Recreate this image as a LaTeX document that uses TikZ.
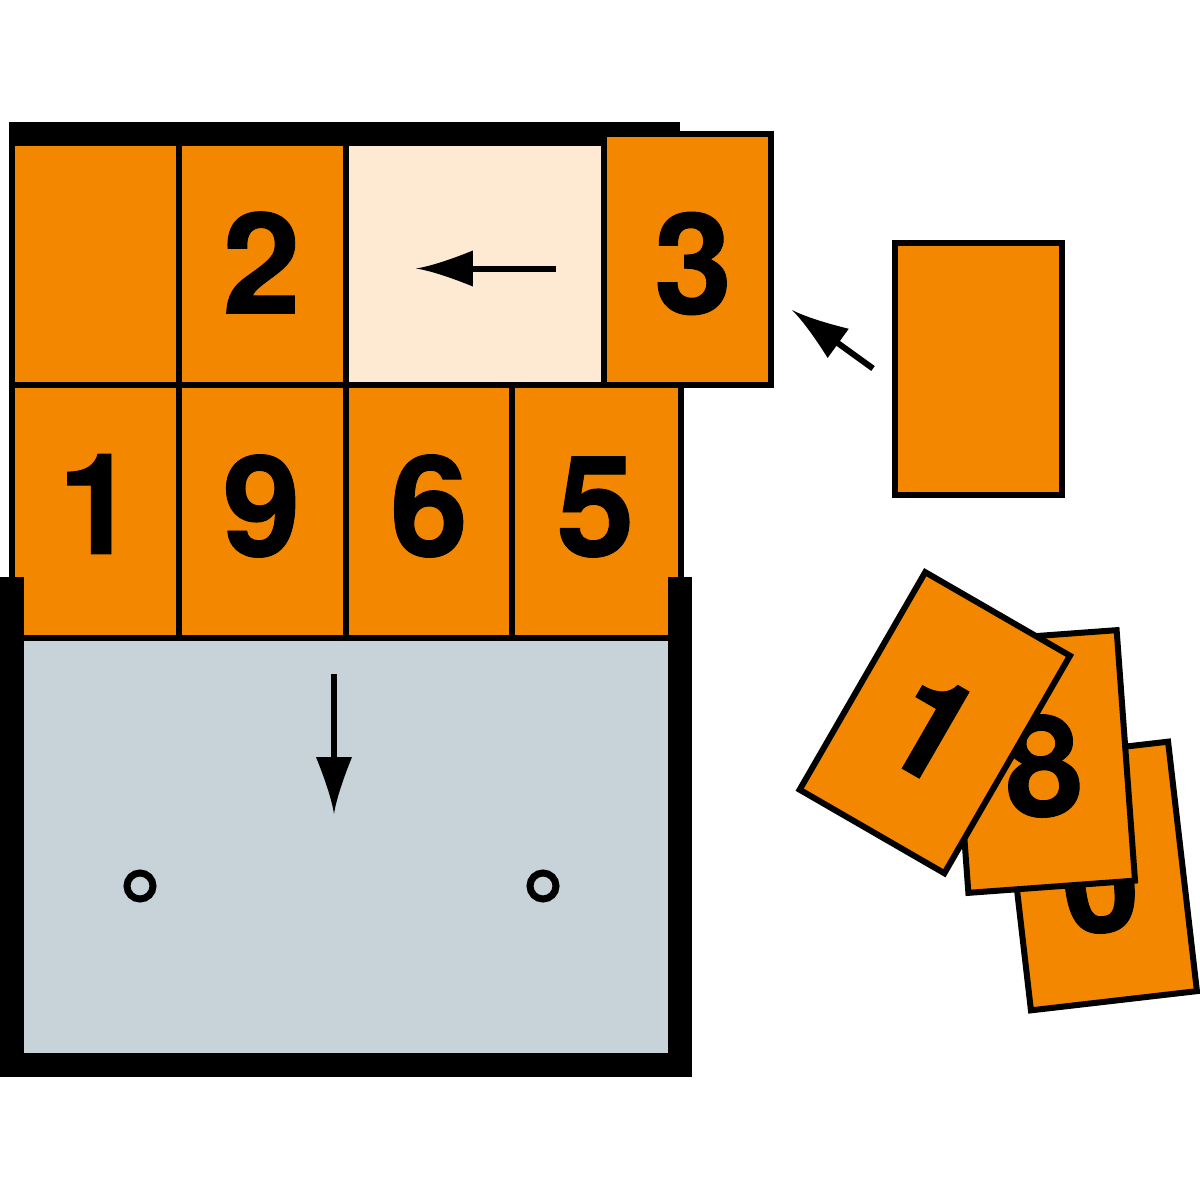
\documentclass[tikz,border=0pt]{standalone}
\usepackage{fontspec}
\newfontfamily\digitfont[BoldFeatures={FakeBold=0.6}]{TeX Gyre Heros}
\definecolor{cardorange}{HTML}{F38800}
\definecolor{slotcream}{HTML}{FEEAD2}
\definecolor{pangrey}{HTML}{C8D2D9}
\pgfdeclarearrow{
	name=swoosh,
	setup code={\pgfarrowssettipend{0pt}\pgfarrowssetlineend{-15pt}\pgfarrowssetvisualbackend{-16.2pt}\pgfarrowssetbackend{-16.2pt}},
	drawing code={
		\pgfpathmoveto{\pgfqpoint{0pt}{0pt}}
		\pgfpathcurveto{\pgfqpoint{-4.4pt}{0.65pt}}{\pgfqpoint{-11pt}{3pt}}{\pgfqpoint{-16.2pt}{5.12pt}}
		\pgfpathlineto{\pgfqpoint{-16.2pt}{-5.12pt}}
		\pgfpathcurveto{\pgfqpoint{-11pt}{-3pt}}{\pgfqpoint{-4.4pt}{-0.65pt}}{\pgfqpoint{0pt}{0pt}}
		\pgfusepathqfill
	}
}
\tikzset{
	cell/.style={rectangle,draw=black,fill=cardorange,line width=0.06cm,inner sep=0,outer sep=0,minimum width=1.67cm},
	card/.style={cell,minimum height=2.51cm},
	digit/.style={inner sep=0,outer sep=0,font=\digitfont\bfseries\fontsize{40}{40}\selectfont},
	wall/.style={line width=0.24cm,line join=miter},
	push/.style={-swoosh,line width=0.06cm},
	pin/.style={circle,draw=black,fill=pangrey,line width=0.07cm,inner sep=0,minimum size=0.26cm}
}
\begin{document}
\begin{tikzpicture}[x=0.01cm,y=-0.01cm]
	\useasboundingbox (0,0) rectangle (1200,1200);
	% tray
	\path (346,847)node[fill=pangrey,inner sep=0,outer sep=0,minimum width=6.44cm,minimum height=4.12cm](tray){};
	% upper row
	\path (95.5,264)node[cell,minimum height=2.42cm](c1){}
	++(167,0)node[cell,minimum height=2.42cm](c2){}
	(475,264)node[cell,fill=slotcream,minimum width=2.58cm,minimum height=2.42cm](slot){};
	% lower row
	\path (95.5,511.5)node[cell,minimum height=2.53cm](d1){}
	++(167,0)node[cell,minimum height=2.53cm](d2){}
	++(166.5,0)node[cell,minimum height=2.53cm,minimum width=1.66cm](d3){}
	++(167.5,0)node[cell,minimum height=2.53cm,minimum width=1.68cm](d4){};
	\coordinate(barL) at (9,134);
	\coordinate(barR) at (680,134);
	\coordinate(wallA) at (12,577);
	\coordinate(wallB) at (12,1065);
	\coordinate(wallC) at (680,1065);
	\coordinate(wallD) at (680,577);
	\draw[wall](barL)--(barR);
	\draw[wall](wallA)--(wallB)--(wallC)--(wallD);
	\path (687.5,259.5)node[card](c3){};
	\path (978.5,369)node[card](spare){};
	% digits
	\path (261.5,262.5)node[digit](n2){2}
	(693,263.5)node[digit](n3){3}
	(97,504)node[digit](n1){1}
	(261.5,506)node[digit](n9){9}
	(429,506)node[digit](n6){6}
	(595.5,507)node[digit](n5){5};
	% pile of loose cards
	\path (1099.5,876)node[card,rotate=6.6](p0){};
	\path (1100,882)node[digit,rotate=6.6](n0){0};
	\path (1042.5,761.5)node[card,rotate=4.2](p8){};
	\path (1043,766)node[digit,rotate=4.2](n8){8};
	\path (934.8,722.7)node[card,rotate=-30](p1){};
	\path (932,728)node[digit,rotate=-30](n1b){1};
	% arrows
	\coordinate(aS) at (556,268.5);
	\coordinate(aE) at (416,268.5);
	\coordinate(bS) at (873,368.5);
	\coordinate(bE) at (792,310);
	\coordinate(cS) at (334,674);
	\coordinate(cE) at (334,814);
	\draw[push](aS)--(aE);
	\draw[push](bS)--(bE);
	\draw[push](cS)--(cE);
	% pins
	\path (140,886)node[pin](pinL){}
	(543,886)node[pin](pinR){};
\end{tikzpicture}
\end{document}
